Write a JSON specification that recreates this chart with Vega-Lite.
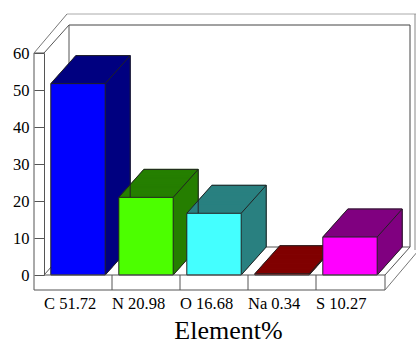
{
"$schema": "https://vega.github.io/schema/vega-lite/v6.json",
"width": 340, "height": 222,
"autosize": {"type": "none"},
"padding": {"left": 44, "top": 53, "right": 32, "bottom": 68},
"config": {"view": {"stroke": null}, "font": "Liberation Serif",
 "axis": {"labelFont": "Liberation Serif", "titleFont": "Liberation Serif", "labelColor": "#000", "titleColor": "#000"},
 "text": {"font": "Liberation Serif"}},
"data": {"values": [
 {"el": "C", "label": "C 51.72", "v": 51.72},
 {"el": "N", "label": "N 20.98", "v": 20.98},
 {"el": "O", "label": "O 16.68", "v": 16.68},
 {"el": "Na", "label": "Na 0.34", "v": 0.34},
 {"el": "S", "label": "S 10.27", "v": 10.27}
]},
"encoding": {
 "x": {"field": "label", "type": "nominal", "sort": null,
  "scale": {"domain": ["C 51.72", "N 20.98", "O 16.68", "Na 0.34", "S 10.27"], "paddingInner": 0.2, "paddingOuter": 0.1},
  "axis": {"orient": "bottom", "offset": 15, "domain": false, "ticks": false, "tickSize": 0,
   "labelAlign": "left", "labelOffset": -34, "labelPadding": 18, "labelBaseline": "alphabetic",
   "labelFont": "Liberation Serif", "labelFontSize": 16.5, "labelColor": "#000", "labelAngle": 0,
   "title": "Element%", "titleFont": "Liberation Serif", "titleFontSize": 26, "titleFontWeight": "normal",
   "titleColor": "#000", "titleX": 184, "titleY": 48, "titleBaseline": "alphabetic"}},
 "y": {"field": "v", "type": "quantitative", "scale": {"domain": [0, 60]},
  "axis": {"orient": "left", "offset": 0, "domain": true, "domainColor": "#555", "ticks": true, "tickSize": 10,
   "tickColor": "#555", "labelPadding": 5, "labelFont": "Liberation Serif", "labelFontSize": 16.5, "labelColor": "#000",
   "values": [0, 10, 20, 30, 40, 50, 60], "grid": false, "title": null}}
},
"layer": [
 {"transform": [{"filter": "datum.el === 'C'"}], "mark": {"type": "rule", "color": "#555", "xOffset": -44, "x2Offset": -44, "yOffset": 0, "y2Offset": 15},
  "encoding": {"x2": {"field": "label"}, "y": {"datum": 60, "type": "quantitative"}, "y2": {"datum": 0}}},
 {"transform": [{"filter": "datum.el === 'C'"}], "mark": {"type": "rule", "color": "#555", "xOffset": -44, "x2Offset": -34, "yOffset": 0, "y2Offset": 0},
  "encoding": {"x2": {"field": "label"}, "y": {"datum": 60, "type": "quantitative"}, "y2": {"datum": 60}}},
 {"transform": [{"filter": "datum.el === 'C'"}], "mark": {"type": "rule", "color": "#777", "xOffset": -44, "x2Offset": -11, "yOffset": 0, "y2Offset": -39},
  "encoding": {"x2": {"field": "label"}, "y": {"datum": 60, "type": "quantitative"}, "y2": {"datum": 60}}},
 {"transform": [{"filter": "datum.el === 'C'"}], "mark": {"type": "rule", "color": "#555", "xOffset": -34, "x2Offset": -9, "yOffset": 0, "y2Offset": -28},
  "encoding": {"x2": {"field": "label"}, "y": {"datum": 60, "type": "quantitative"}, "y2": {"datum": 60}}},
 {"transform": [{"filter": "datum.el === 'C'"}], "mark": {"type": "rule", "color": "#444", "xOffset": -9, "x2Offset": 332, "yOffset": -28, "y2Offset": -28},
  "encoding": {"x2": {"field": "label"}, "y": {"datum": 60, "type": "quantitative"}, "y2": {"datum": 60}}},
 {"transform": [{"filter": "datum.el === 'C'"}], "mark": {"type": "rule", "color": "#aaa", "xOffset": -11, "x2Offset": 342, "yOffset": -39, "y2Offset": -39},
  "encoding": {"x2": {"field": "label"}, "y": {"datum": 60, "type": "quantitative"}, "y2": {"datum": 60}}},
 {"transform": [{"filter": "datum.el === 'C'"}], "mark": {"type": "rule", "color": "#444", "xOffset": 332, "x2Offset": 332, "yOffset": -28, "y2Offset": -28},
  "encoding": {"x2": {"field": "label"}, "y": {"datum": 60, "type": "quantitative"}, "y2": {"datum": 0}}},
 {"transform": [{"filter": "datum.el === 'C'"}], "mark": {"type": "rule", "color": "#555", "xOffset": -9, "x2Offset": -9, "yOffset": -28, "y2Offset": -28},
  "encoding": {"x2": {"field": "label"}, "y": {"datum": 60, "type": "quantitative"}, "y2": {"datum": 0}}},
 {"transform": [{"filter": "datum.el === 'C'"}], "mark": {"type": "rule", "color": "#555", "xOffset": -9, "x2Offset": 332, "yOffset": -28, "y2Offset": -28},
  "encoding": {"x2": {"field": "label"}, "y": {"datum": 0, "type": "quantitative"}, "y2": {"datum": 0}}},
 {"transform": [{"filter": "datum.el === 'C'"}], "mark": {"type": "rule", "color": "#555", "xOffset": -34, "x2Offset": -9, "yOffset": 0, "y2Offset": -28},
  "encoding": {"x2": {"field": "label"}, "y": {"datum": 0, "type": "quantitative"}, "y2": {"datum": 0}}},
 {"transform": [{"filter": "datum.el === 'C'"}], "mark": {"type": "rule", "color": "#888", "xOffset": 337, "x2Offset": 337, "yOffset": -39, "y2Offset": -25},
  "encoding": {"x2": {"field": "label"}, "y": {"datum": 60, "type": "quantitative"}, "y2": {"datum": 0}}},
 {"encoding": {
   "color": {"field": "el", "type": "nominal", "legend": null,
    "scale": {"domain": ["C", "N", "O", "Na", "S"], "range": ["#000080", "#267f00", "#2a8080", "#800000", "#800080"]}},
   "stroke": {"field": "el", "type": "nominal", "legend": null,
    "scale": {"domain": ["C", "N", "O", "Na", "S"], "range": ["#000080", "#267f00", "#2a8080", "#800000", "#800080"]}}},
  "layer": [
   {"mark": {"type": "bar", "strokeWidth": 1, "xOffset": 25, "yOffset": -28, "y2Offset": -28}},
   {"mark": {"type": "bar", "strokeWidth": 1, "xOffset": 24, "yOffset": -26.9, "y2Offset": -26.9}},
   {"mark": {"type": "bar", "strokeWidth": 1, "xOffset": 23, "yOffset": -25.8, "y2Offset": -25.8}},
   {"mark": {"type": "bar", "strokeWidth": 1, "xOffset": 22, "yOffset": -24.6, "y2Offset": -24.6}},
   {"mark": {"type": "bar", "strokeWidth": 1, "xOffset": 21, "yOffset": -23.5, "y2Offset": -23.5}},
   {"mark": {"type": "bar", "strokeWidth": 1, "xOffset": 20, "yOffset": -22.4, "y2Offset": -22.4}},
   {"mark": {"type": "bar", "strokeWidth": 1, "xOffset": 19, "yOffset": -21.3, "y2Offset": -21.3}},
   {"mark": {"type": "bar", "strokeWidth": 1, "xOffset": 18, "yOffset": -20.2, "y2Offset": -20.2}},
   {"mark": {"type": "bar", "strokeWidth": 1, "xOffset": 17, "yOffset": -19, "y2Offset": -19}},
   {"mark": {"type": "bar", "strokeWidth": 1, "xOffset": 16, "yOffset": -17.9, "y2Offset": -17.9}},
   {"mark": {"type": "bar", "strokeWidth": 1, "xOffset": 15, "yOffset": -16.8, "y2Offset": -16.8}},
   {"mark": {"type": "bar", "strokeWidth": 1, "xOffset": 14, "yOffset": -15.7, "y2Offset": -15.7}},
   {"mark": {"type": "bar", "strokeWidth": 1, "xOffset": 13, "yOffset": -14.6, "y2Offset": -14.6}},
   {"mark": {"type": "bar", "strokeWidth": 1, "xOffset": 12, "yOffset": -13.4, "y2Offset": -13.4}},
   {"mark": {"type": "bar", "strokeWidth": 1, "xOffset": 11, "yOffset": -12.3, "y2Offset": -12.3}},
   {"mark": {"type": "bar", "strokeWidth": 1, "xOffset": 10, "yOffset": -11.2, "y2Offset": -11.2}},
   {"mark": {"type": "bar", "strokeWidth": 1, "xOffset": 9, "yOffset": -10.1, "y2Offset": -10.1}},
   {"mark": {"type": "bar", "strokeWidth": 1, "xOffset": 8, "yOffset": -9, "y2Offset": -9}},
   {"mark": {"type": "bar", "strokeWidth": 1, "xOffset": 7, "yOffset": -7.8, "y2Offset": -7.8}},
   {"mark": {"type": "bar", "strokeWidth": 1, "xOffset": 6, "yOffset": -6.7, "y2Offset": -6.7}},
   {"mark": {"type": "bar", "strokeWidth": 1, "xOffset": 5, "yOffset": -5.6, "y2Offset": -5.6}},
   {"mark": {"type": "bar", "strokeWidth": 1, "xOffset": 4, "yOffset": -4.5, "y2Offset": -4.5}},
   {"mark": {"type": "bar", "strokeWidth": 1, "xOffset": 3, "yOffset": -3.4, "y2Offset": -3.4}},
   {"mark": {"type": "bar", "strokeWidth": 1, "xOffset": 2, "yOffset": -2.2, "y2Offset": -2.2}},
   {"mark": {"type": "bar", "strokeWidth": 1, "xOffset": 1, "yOffset": -1.1, "y2Offset": -1.1}}
  ]},
 {"mark": {"type": "rule", "color": "#222", "xOffset": -27.2, "x2Offset": -2.2, "yOffset": 0, "y2Offset": -28},
  "encoding": {"x2": {"field": "label"}, "y2": {"field": "v"}}},
 {"mark": {"type": "rule", "color": "#222", "xOffset": -2.2, "x2Offset": 52.2, "yOffset": -28, "y2Offset": -28},
  "encoding": {"x2": {"field": "label"}, "y2": {"field": "v"}}},
 {"mark": {"type": "rule", "color": "#222", "xOffset": 27.2, "x2Offset": 52.2, "yOffset": 0, "y2Offset": -28},
  "encoding": {"x2": {"field": "label"}, "y2": {"field": "v"}}},
 {"mark": {"type": "rule", "color": "#222", "xOffset": 52.2, "x2Offset": 52.2, "yOffset": -28, "y2Offset": -28},
  "encoding": {"x2": {"field": "label"}, "y2": {"datum": 0}}},
 {"mark": {"type": "rule", "color": "#222", "xOffset": 27.2, "x2Offset": 52.2, "yOffset": 0, "y2Offset": -28},
  "encoding": {"x2": {"field": "label"}, "y": {"datum": 0, "type": "quantitative"}, "y2": {"datum": 0}}},
 {"mark": {"type": "bar", "stroke": "#222", "strokeWidth": 1},
  "encoding": {"fill": {"field": "el", "type": "nominal", "legend": null,
   "scale": {"domain": ["C", "N", "O", "Na", "S"], "range": ["#0000ff", "#4cff00", "#44ffff", "#ff0000", "#ff00ff"]}}}},
 {"transform": [{"filter": "datum.el === 'C'"}], "mark": {"type": "rule", "color": "#555", "xOffset": -34, "x2Offset": 307, "yOffset": 0, "y2Offset": 0},
  "encoding": {"x2": {"field": "label"}, "y": {"datum": 0, "type": "quantitative"}, "y2": {"datum": 0}}},
 {"transform": [{"filter": "datum.el === 'C'"}], "mark": {"type": "rule", "color": "#555", "xOffset": -44, "x2Offset": 307, "yOffset": 15, "y2Offset": 15},
  "encoding": {"x2": {"field": "label"}, "y": {"datum": 0, "type": "quantitative"}, "y2": {"datum": 0}}},
 {"transform": [{"filter": "datum.el === 'C'"}], "mark": {"type": "rule", "color": "#555", "xOffset": 307, "x2Offset": 307, "yOffset": 0, "y2Offset": 15},
  "encoding": {"x2": {"field": "label"}, "y": {"datum": 0, "type": "quantitative"}, "y2": {"datum": 0}}},
 {"transform": [{"filter": "datum.el === 'C'"}], "mark": {"type": "rule", "color": "#555", "xOffset": 307, "x2Offset": 332, "yOffset": 0, "y2Offset": -28},
  "encoding": {"x2": {"field": "label"}, "y": {"datum": 0, "type": "quantitative"}, "y2": {"datum": 0}}},
 {"transform": [{"filter": "datum.el === 'C'"}], "mark": {"type": "rule", "color": "#777", "xOffset": 307, "x2Offset": 340, "yOffset": 15, "y2Offset": -24},
  "encoding": {"x2": {"field": "label"}, "y": {"datum": 0, "type": "quantitative"}, "y2": {"datum": 0}}},
 {"transform": [{"filter": "datum.el !== 'S'"}],
  "mark": {"type": "rule", "color": "#555", "xOffset": 34, "yOffset": 0, "y2Offset": 15},
  "encoding": {"y": {"datum": 0, "type": "quantitative"}, "y2": {"datum": 0}}}
]
}
